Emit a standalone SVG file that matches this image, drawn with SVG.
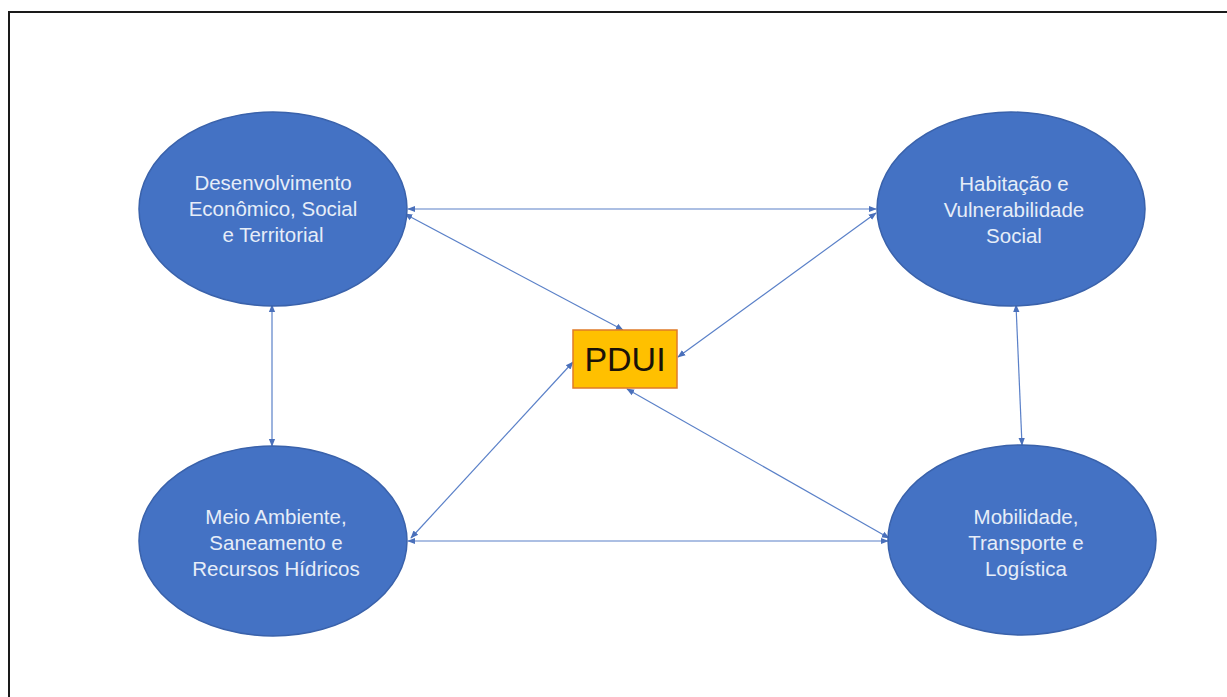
<svg xmlns="http://www.w3.org/2000/svg" width="1227" height="697" viewBox="0 0 1227 697">
  <style>
    .frame { fill: #ffffff; stroke: #1a1a1a; stroke-width: 2; }
    .topic { fill: #4472C4; stroke: #3a62ab; stroke-width: 1.5; }
    .topic-text { font-family: "Liberation Sans", Arial, sans-serif; font-size: 20.5px; fill: #e6edf8; text-anchor: middle; }
    .hub { fill: #FFC000; stroke: #E07B28; stroke-width: 1.5; }
    .hub-text { font-family: "Liberation Sans", Arial, sans-serif; font-size: 34px; fill: #1a1208; text-anchor: middle; }
    .link { stroke: #5a80c8; stroke-width: 1.2; fill: none; marker-start: url(#head); marker-end: url(#head); }
  </style>
  <defs>
    <marker id="head" viewBox="0 0 10 10" refX="9" refY="5" markerWidth="8" markerHeight="8" markerUnits="userSpaceOnUse" orient="auto-start-reverse">
      <path d="M0,1 L10,5 L0,9 Z" fill="#4a70bb"/>
    </marker>
  </defs>

  <!-- page frame -->
  <rect class="frame" x="9" y="12" width="1230" height="700"/>

  <!-- connectors -->
  <g id="connectors">
    <line class="link" x1="408" y1="209" x2="876" y2="209"/>
    <line class="link" x1="408" y1="541" x2="888" y2="541"/>
    <line class="link" x1="272" y1="305" x2="272" y2="446"/>
    <line class="link" x1="1016" y1="305" x2="1022" y2="445"/>
    <line class="link" x1="405" y1="214" x2="623" y2="330"/>
    <line class="link" x1="876" y1="213" x2="678" y2="357"/>
    <line class="link" x1="411" y1="538" x2="573" y2="362"/>
    <line class="link" x1="889" y1="538" x2="627" y2="389"/>
  </g>

  <!-- topic nodes -->
  <g id="node-desenvolvimento">
    <ellipse class="topic" cx="273" cy="209" rx="134" ry="97"/>
    <text class="topic-text" x="273" y="190">Desenvolvimento</text>
    <text class="topic-text" x="273" y="216">Econômico, Social</text>
    <text class="topic-text" x="273" y="242">e Territorial</text>
  </g>

  <g id="node-habitacao">
    <ellipse class="topic" cx="1011" cy="209" rx="134" ry="97"/>
    <text class="topic-text" x="1014" y="191">Habitação e</text>
    <text class="topic-text" x="1014" y="217">Vulnerabilidade</text>
    <text class="topic-text" x="1014" y="243">Social</text>
  </g>

  <g id="node-meio-ambiente">
    <ellipse class="topic" cx="273" cy="541" rx="134" ry="95"/>
    <text class="topic-text" x="276" y="524">Meio Ambiente,</text>
    <text class="topic-text" x="276" y="550">Saneamento e</text>
    <text class="topic-text" x="276" y="576">Recursos Hídricos</text>
  </g>

  <g id="node-mobilidade">
    <ellipse class="topic" cx="1022" cy="540" rx="134" ry="95"/>
    <text class="topic-text" x="1026" y="524">Mobilidade,</text>
    <text class="topic-text" x="1026" y="550">Transporte e</text>
    <text class="topic-text" x="1026" y="576">Logística</text>
  </g>

  <!-- central node -->
  <g id="node-pdui">
    <rect class="hub" x="573" y="330" width="104" height="58"/>
    <text class="hub-text" x="625" y="371">PDUI</text>
  </g>
</svg>
